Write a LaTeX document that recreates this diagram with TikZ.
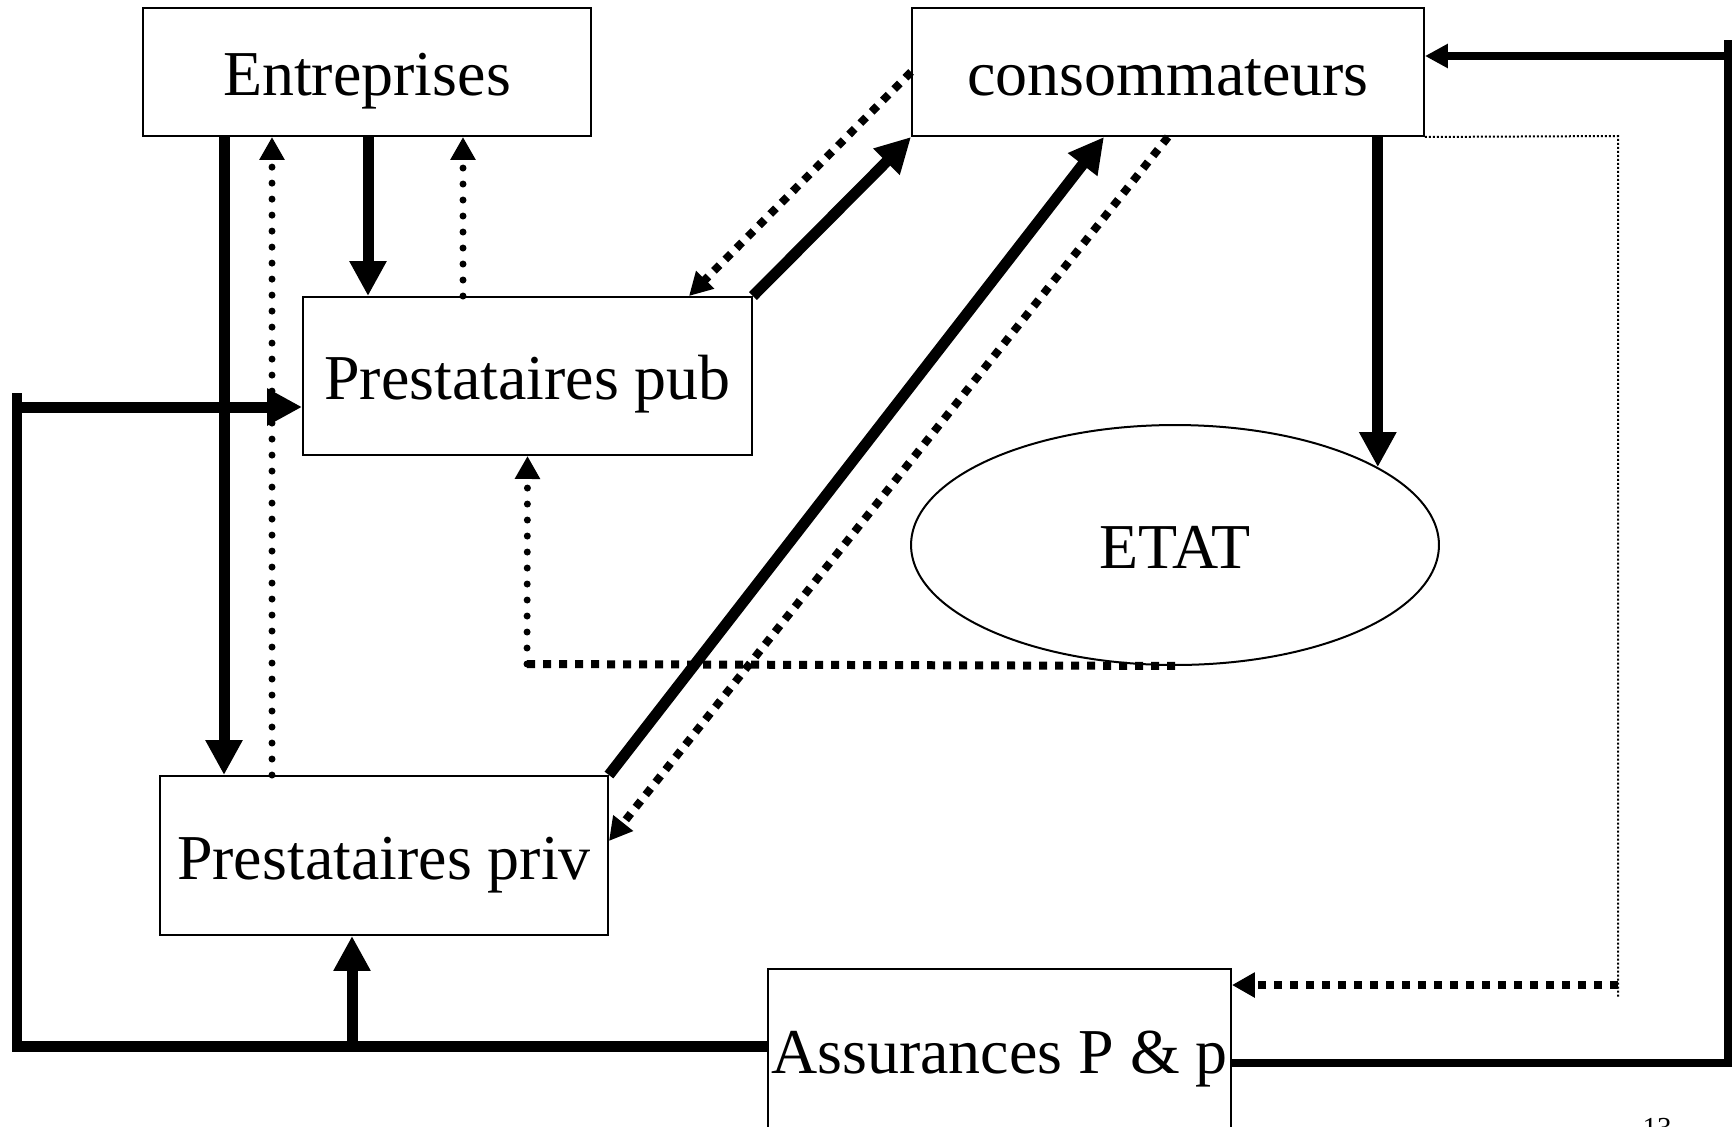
\documentclass[tikz,border=0pt]{standalone}
\usepackage{fontspec}
\setmainfont{Liberation Serif}
\usetikzlibrary{arrows.meta,shapes.geometric}

\begin{document}
\begin{tikzpicture}
  [x=0.02cm,y=-0.02cm,
   every node/.style={draw,line width=0.04cm,inner sep=0pt,
     text height=27.3pt,text depth=0pt,
     font=\fontsize{36.4}{44}\selectfont},
   boite/.style={rectangle},
   etat/.style={ellipse},
   epais/.style={line width=0.22cm,-{Triangle[width=0.7cm,length=0.7cm]}},
   trait/.style={line width=0.22cm},
   moyen/.style={line width=0.16cm},
   moyenfleche/.style={moyen,-{Triangle[width=0.46cm,length=0.46cm]}},
   points/.style={line width=0.14cm,line cap=round,dash pattern=on 0pt off 0.32cm,
     -{Triangle[width=0.48cm,length=0.46cm]}},
   carres/.style={line width=0.16cm,dash pattern=on 0.16cm off 0.16cm},
   carresfleche/.style={carres,-{Triangle[width=0.48cm,length=0.46cm]}},
   fin/.style={line width=0.04cm,dash pattern=on 0.04cm off 0.04cm}]

  \useasboundingbox (0,0) rectangle (1736,1126);

  \node[boite,minimum width=8.96cm,minimum height=2.56cm] (ent) at (367,72) {Entreprises};
  \node[boite,minimum width=10.24cm,minimum height=2.56cm] (conso) at (1168,72) {consommateurs};
  \node[boite,minimum width=8.98cm,minimum height=3.16cm] (pub) at (527.5,376) {Prestataires pub};
  \node[etat,minimum width=10.56cm,minimum height=4.8cm] (ETAT) at (1175,545) {ETAT};
  \node[boite,minimum width=8.96cm,minimum height=3.18cm] (priv) at (384,855.5) {Prestataires priv};
  \node[boite,minimum width=9.26cm,minimum height=3.2cm] (ass) at (999.5,1049) {Assurances P \& p};
  \node[draw=none,anchor=north,text height=,text depth=] (page) at (1657,1117) {\fontsize{16.5}{18}\selectfont 13};

  \coordinate (coin) at (527,664);
  \coordinate (hautd) at (1618,136);
  \coordinate (basd) at (1618,998);
  \coordinate (boucled) at (1728,1063);
  \coordinate (sommetd) at (1728,40);
  \coordinate (boucleg) at (17,1046);
  \coordinate (sommetg) at (17,393);

  % Entreprises
  \foreach \to/\x in {priv/224,pub/368}
    \draw[epais] (ent.south -| \x,0) -- (\to.north -| \x,0);
  \foreach \from/\x in {priv/272,pub/463}
    \draw[points] (\from.north -| \x,0) -- (ent.south -| \x,0);

  % consommateurs
  \draw[carresfleche] (conso.west) -- (pub.north -| 689,0);
  \draw[epais] (pub.north east) -- (conso.south west);
  \draw[epais] (priv.north east) -- (conso.south -| 1104,0);
  \draw[carresfleche] (conso.south) -- (priv.east |- 0,841);
  \draw[epais] (ETAT.21 |- conso.south) -- (ETAT.21);

  % ETAT
  \draw[carres] (ETAT.south) -- (coin);
  \draw[points] (coin) -- (pub.south);

  % Assurances
  \draw[fin] (conso.south east) -- (hautd) -- (basd);
  \draw[carresfleche] (basd |- 0,985) -- (ass.east |- 0,985);
  \draw[moyen] (ass.east |- boucled) -- (boucled) -- (sommetd);
  \draw[moyenfleche] (sommetd |- 0,56) -- (conso.east |- 0,56);
  \draw[trait] (ass.west |- boucleg) -- (boucleg) -- (sommetg);
  \draw[epais] (sommetg |- 0,407) -- (pub.west |- 0,407);
  \draw[epais] (boucleg -| 352,0) -- (priv.south -| 352,0);
\end{tikzpicture}
\end{document}
